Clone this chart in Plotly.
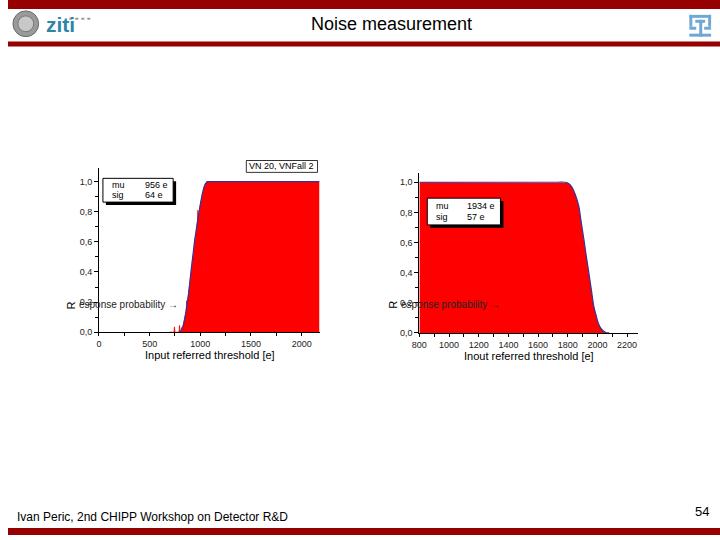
import plotly.graph_objects as go

W, H = 720, 540

# ---------------- data ----------------
# Left panel: measured response (with noisy spikes) and the fitted S-curve
left_x = [700, 740, 745, 750, 760, 790, 795, 800, 810, 815, 820, 830, 840, 852, 860,
          866, 870, 875, 890, 907, 925, 946, 960, 973, 976, 980, 998, 1020, 1040, 1055,
          1070, 1100, 2176]
left_y = [0, 0, 0.035, 0, 0, 0, 0.045, 0.01, 0.0, 0.03, 0.01, 0.04, 0.07, 0.11, 0.14,
          0.21, 0.16, 0.21, 0.29, 0.40, 0.50, 0.62, 0.68, 0.74, 0.81, 0.75, 0.84, 0.92,
          0.97, 0.99, 1.0, 1.0, 1.0]
left_fit_x = [790, 810, 830, 852, 875, 890, 907, 925, 946, 960, 975, 998, 1020, 1040,
              1055, 1070, 1100, 2176]
left_fit_y = [0.0, 0.01, 0.04, 0.11, 0.21, 0.29, 0.40, 0.50, 0.62, 0.68, 0.75, 0.84,
              0.92, 0.97, 0.99, 1.0, 1.0, 1.0]

# Right panel
right_x = [800, 1700, 1780, 1800, 1827, 1850, 1875, 1890, 1909, 1925, 1942, 1960, 1975,
           1990, 2004, 2020, 2040, 2060, 2080]
right_y = [1.0, 1.0, 1.0, 0.995, 0.97, 0.92, 0.84, 0.74, 0.62, 0.51, 0.40, 0.28, 0.18,
           0.12, 0.07, 0.035, 0.012, 0.0, 0.0]

left_xticks = [0, 500, 1000, 1500, 2000]
right_xticks = [800, 1000, 1200, 1400, 1600, 1800, 2000, 2200]
y_ticks = [0, 0.2, 0.4, 0.6, 0.8, 1.0]
y_ticktext = ["0,0", "0,2", "0,4", "0,6", "0,8", "1,0"]

title = "Noise measurement"
footer = "Ivan Peric, 2nd CHIPP Workshop on Detector R&D"
page_no = "54"
left_xtitle = "Input referred threshold [e]"
right_xtitle = "Inout referred threshold [e]"
left_stats = [("mu", "956 e"), ("sig", "64 e")]
right_stats = [("mu", "1934 e"), ("sig", "57 e")]
legend_label = "VN 20, VNFall 2"

# ---------------- helpers ----------------
def px(x):
    return x / W

def py(y):
    return 1 - y / H

FONT = "Liberation Sans, Arial, sans-serif"
RED = "#ff0000"
BLUE = "#33339a"
BAND = "#960000"

fig = go.Figure()

# left panel traces
fig.add_trace(go.Scatter(x=left_x, y=left_y, mode="lines", fill="tozeroy",
                         fillcolor=RED, line=dict(color=RED, width=0.8),
                         xaxis="x", yaxis="y", showlegend=False, hoverinfo="skip"))
fig.add_trace(go.Scatter(x=left_fit_x, y=left_fit_y, mode="lines",
                         line=dict(color=BLUE, width=1.2, shape="spline", smoothing=0.6),
                         xaxis="x", yaxis="y", showlegend=False, hoverinfo="skip"))
# right panel traces
fig.add_trace(go.Scatter(x=right_x, y=right_y, mode="lines", fill="tozeroy",
                         fillcolor=RED, line=dict(color=RED, width=0),
                         xaxis="x2", yaxis="y2", showlegend=False, hoverinfo="skip"))
fig.add_trace(go.Scatter(x=right_x, y=right_y, mode="lines",
                         line=dict(color=BLUE, width=1.2, shape="spline", smoothing=0.6),
                         xaxis="x2", yaxis="y2", showlegend=False, hoverinfo="skip"))

axis_common = dict(showgrid=False, zeroline=False, showline=True, linecolor="black",
                   linewidth=1, ticks="outside", tickcolor="black",
                   tickfont=dict(family=FONT, size=9, color="#222"))

fig.update_layout(
    width=W, height=H, margin=dict(l=0, r=0, t=0, b=0),
    paper_bgcolor="white", plot_bgcolor="white",
    xaxis=dict(domain=[px(92), px(315)], range=[0, 2176], anchor="y",
               tickvals=left_xticks, ticklen=3,
               minor=dict(ticks="outside", dtick=250, ticklen=3, tickcolor="black"),
               **axis_common),
    yaxis=dict(domain=[py(335.3), py(170)], range=[0, 1.088], anchor="x",
               tickvals=y_ticks, ticktext=y_ticktext, ticklen=4,
               minor=dict(ticks="outside", dtick=0.1, ticklen=3, tickcolor="black"),
               **axis_common),
    xaxis2=dict(domain=[px(416), px(637)], range=[800, 2273], anchor="y2",
                tickvals=right_xticks, ticklen=3,
                minor=dict(ticks="outside", dtick=100, ticklen=3, tickcolor="black"),
                **axis_common),
    yaxis2=dict(domain=[py(336), py(175)], range=[0, 1.059], anchor="x2",
                tickvals=y_ticks, ticktext=y_ticktext, ticklen=4,
                minor=dict(ticks="outside", dtick=0.1, ticklen=3, tickcolor="black"),
                **axis_common),
)

shapes = []
ann = []

# header / footer bands
shapes.append(dict(type="rect", xref="paper", yref="paper", x0=0, x1=1, y0=py(9), y1=1,
                   fillcolor=BAND, line=dict(width=0), layer="above"))
shapes.append(dict(type="rect", xref="paper", yref="paper", x0=0, x1=1, y0=py(47), y1=py(42),
                   fillcolor=BAND, line=dict(width=0), layer="above"))
shapes.append(dict(type="rect", xref="paper", yref="paper", x0=0, x1=1, y0=0, y1=py(533),
                   fillcolor=BAND, line=dict(width=0), layer="above"))

# left logo (emblem + ziti)
shapes.append(dict(type="circle", xref="paper", yref="paper", x0=px(5), x1=px(31),
                   y0=py(37), y1=py(11), fillcolor="#9a9a9a",
                   line=dict(color="#6a6a6a", width=1), layer="above"))
shapes.append(dict(type="circle", xref="paper", yref="paper", x0=px(10), x1=px(26),
                   y0=py(32), y1=py(16), fillcolor="#c8c8c8",
                   line=dict(color="#777", width=1), layer="above"))
ann.append(dict(text="<b>ziti</b>", x=px(36), y=py(25), xref="paper", yref="paper",
                xanchor="left", yanchor="middle", showarrow=False,
                font=dict(family=FONT, size=21, color="#2f86a8")))
shapes.append(dict(type="line", xref="paper", yref="paper", x0=px(62), x1=px(84),
                   y0=py(19), y1=py(19), line=dict(color="#999", width=2, dash="dot"),
                   layer="above"))

# right logo
for (x0, y0, x1, y1) in [(689, 15, 711, 18), (689, 15, 692, 27), (708, 15, 711, 27),
                         (695, 20, 705, 23), (699, 20, 702, 37), (689, 34, 711, 37),
                         (689, 27, 696, 30), (704, 27, 711, 30)]:
    shapes.append(dict(type="rect", xref="paper", yref="paper", x0=px(x0), x1=px(x1),
                       y0=py(y1), y1=py(y0), fillcolor="#6fa8d6",
                       line=dict(width=0), layer="above"))

ann.append(dict(text=title, x=px(388), y=py(24), xref="paper", yref="paper",
                xanchor="center", yanchor="middle", showarrow=False,
                font=dict(family=FONT, size=18, color="black")))
ann.append(dict(text=footer, x=px(7), y=py(522), xref="paper", yref="paper",
                xanchor="left", yanchor="middle", showarrow=False,
                font=dict(family=FONT, size=12, color="black")))
ann.append(dict(text=page_no, x=px(702), y=py(516), xref="paper", yref="paper",
                xanchor="center", yanchor="middle", showarrow=False,
                font=dict(family=FONT, size=13, color="black")))

# axis titles
ann.append(dict(text=left_xtitle, x=px(204), y=py(358), xref="paper", yref="paper",
                xanchor="center", yanchor="middle", showarrow=False,
                font=dict(family=FONT, size=11, color="black")))
ann.append(dict(text=right_xtitle, x=px(527), y=py(359), xref="paper", yref="paper",
                xanchor="center", yanchor="middle", showarrow=False,
                font=dict(family=FONT, size=11, color="black")))

# garbled y axis titles
for (rx, tx) in [(64, 70), (389, 395)]:
    ann.append(dict(text="R", x=px(rx), y=py(308), xref="paper", yref="paper",
                    xanchor="center", yanchor="middle", showarrow=False, textangle=-90,
                    font=dict(family=FONT, size=11, color="black")))
    ann.append(dict(text="esponse probability \u2192", x=px(tx), y=py(307), xref="paper",
                    yref="paper", xanchor="left", yanchor="middle", showarrow=False,
                    font=dict(family=FONT, size=10, color="#222")))

# stat boxes with shadow
def stat_box(x0, y0, x1, y1, stats, vx):
    shapes.append(dict(type="rect", xref="paper", yref="paper", x0=px(x0 + 3),
                       x1=px(x1 + 3), y0=py(y1 + 3), y1=py(y0 + 3),
                       fillcolor="black", line=dict(width=0), layer="above"))
    shapes.append(dict(type="rect", xref="paper", yref="paper", x0=px(x0), x1=px(x1),
                       y0=py(y1), y1=py(y0), fillcolor="white",
                       line=dict(color="black", width=1), layer="above"))
    n = len(stats)
    step = (y1 - y0) / (n + 0.4)
    for i, (k, v) in enumerate(stats):
        yy = y0 + step * (i + 0.7)
        ann.append(dict(text=k, x=px(x0 + 7), y=py(yy), xref="paper", yref="paper",
                        xanchor="left", yanchor="middle", showarrow=False,
                        font=dict(family=FONT, size=9, color="black")))
        ann.append(dict(text=v, x=px(vx), y=py(yy), xref="paper", yref="paper",
                        xanchor="left", yanchor="middle", showarrow=False,
                        font=dict(family=FONT, size=9, color="black")))

stat_box(96, 180, 167, 204, left_stats, 137)
stat_box(424, 200, 498, 227, right_stats, 462)

# legend label box
shapes.append(dict(type="rect", xref="paper", yref="paper", x0=px(241), x1=px(313),
                   y0=py(174), y1=py(162), fillcolor="white",
                   line=dict(color="black", width=0.8), layer="above"))
ann.append(dict(text=legend_label, x=px(277), y=py(168), xref="paper", yref="paper",
                xanchor="center", yanchor="middle", showarrow=False,
                font=dict(family=FONT, size=9, color="black")))

fig.update_layout(shapes=shapes, annotations=ann)
fig.write_html("out.html",
               post_script="document.body.style.margin='0';"
                           "document.body.style.overflow='hidden';")
